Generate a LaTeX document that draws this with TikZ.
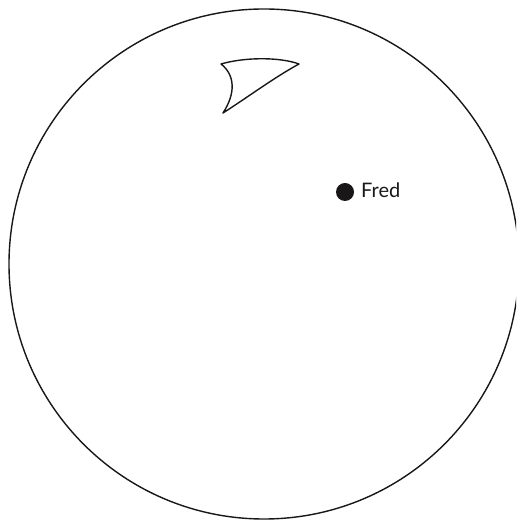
\documentclass[tikz,border=0pt]{standalone}
\usepackage{fontspec}
\setsansfont{Lato}
\usetikzlibrary{positioning}
\definecolor{ink}{HTML}{1A1718}
\tikzset{
  every node/.style={font=\sffamily},
  outline/.style={draw=ink, line width=1.4pt},
  person/.style={circle, fill=ink, inner sep=0pt, minimum size=18pt},
  namelabel/.style={font=\sffamily\fontsize{20}{22}\selectfont, text=ink, inner sep=0pt, anchor=base west},
}
\begin{document}
\begin{tikzpicture}[x=1pt, y=1pt]
\useasboundingbox (0,0) rectangle (516,521);
\clip (0,0) rectangle (516,521);
% world boundary
\draw[outline] (264,257) circle[radius=255];
% the fin
\draw[outline, line join=round]
  (221,457) .. controls (245,464) and (280,464) .. (299,457)
  .. controls (275,444) and (248,424) .. (223,408)
  .. controls (236,428) and (235,446) .. cycle;
% Fred
\node[person] (fred) at (345,329) {};
\node[namelabel] (fredname) at (361,323) {Fred};
\end{tikzpicture}
\end{document}
